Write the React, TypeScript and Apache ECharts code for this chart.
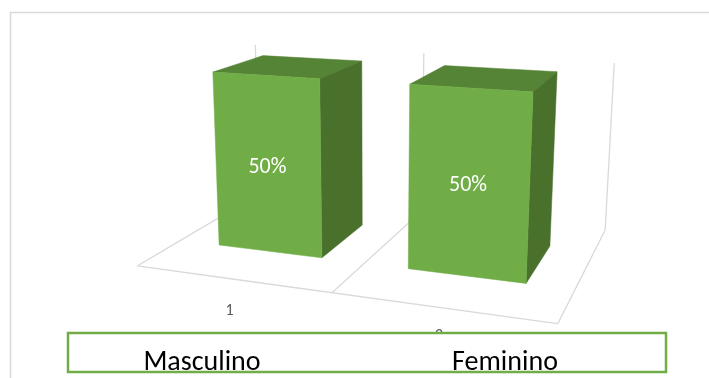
import React, { useEffect, useRef } from 'react';
import * as echarts from 'echarts';

const categories = ['1', '2'];
const values = [0.5, 0.5];
const legendNames = ['Masculino', 'Feminino'];
const VALUE_MAX = 0.5;

// Perspective camera (3x4 projection, last entry 1): world X across categories,
// Y depth (0 front .. 1 back wall), Z as fraction of the value axis.
const CAMERA = [
  171.88426, 182.97974, -15.4495, 137.24669,
  6.56395, -26.75372, -185.8522, 265.95819,
  -0.06886, 0.23488, -0.04132,
];

function proj(X: number, Y: number, Z: number): number[] {
  const P = CAMERA;
  const w = P[8] * X + P[9] * Y + P[10] * Z + 1;
  return [
    (P[0] * X + P[1] * Y + P[2] * Z + P[3]) / w,
    (P[4] * X + P[5] * Y + P[6] * Z + P[7]) / w,
  ];
}

const BAR_RATIO = 0.56;
const DEPTH0 = 0.31;
const DEPTH1 = 0.73;
const FRONT = '#70ad47';
const TOP = '#568436';
const SIDE = '#4a712c';
const GRID_LINE = '#d9d9d9';
const FONT = 'Calibri, Carlito, "Liberation Sans", Arial, sans-serif';

export default function App() {
  const ref = useRef<HTMLDivElement>(null);
  useEffect(() => {
    if (!ref.current) return;
    const chart = echarts.init(ref.current, undefined, { renderer: 'svg' });
    const n = categories.length;

    const frame: any[] = [];
    const line = (a: number[], b: number[]) => {
      const p = proj(a[0], a[1], a[2]);
      const q = proj(b[0], b[1], b[2]);
      frame.push({
        type: 'line', z: 0, silent: true,
        shape: { x1: p[0], y1: p[1], x2: q[0], y2: q[1] },
        style: { stroke: GRID_LINE, lineWidth: 1.3 },
      });
    };
    line([0, 0, 0], [n, 0, 0]);
    for (let k = 0; k <= n; k++) {
      line([k, 0, 0], [k, 1, 0]);
      line([k, 1, 0], [k, 1, 1]);
    }

    const boxX = 68, boxY = 333, boxW = 598, boxH = 39;
    const legendEls = legendNames.map((name, i) => ({
      type: 'text', z: 31,
      x: i === 0 ? 202 : 505, y: 360,
      style: { text: name, font: `28px ${FONT}`, fill: '#000000', align: 'center', verticalAlign: 'middle' },
    }));

    chart.setOption({
      animation: false,
      grid: { left: 0, top: 0, width: 200, height: 100, show: false },
      xAxis: { type: 'category', data: categories, show: false },
      yAxis: { type: 'value', min: 0, max: VALUE_MAX, show: false },
      graphic: [
        {
          type: 'rect', z: 0, silent: true,
          shape: { x: 10.5, y: 12.5, width: 900, height: 600 },
          style: { fill: 'none', stroke: GRID_LINE, lineWidth: 1.5 },
        },
        ...frame,
        {
          type: 'rect', z: 30,
          shape: { x: boxX, y: boxY, width: boxW, height: boxH },
          style: { fill: '#ffffff', stroke: '#70ad47', lineWidth: 2.5 },
        },
        ...legendEls,
      ],
      series: [
        {
          type: 'custom',
          z: 5,
          data: values.map((v, i) => [i, v]),
          renderItem: (params: any, api: any) => {
            const cs = params.coordSys;
            const i = api.value(0);
            const v = api.value(1);
            const top = api.coord([i, v]);
            const base = api.coord([i, 0]);
            const band = api.size([1, 0])[0];
            const unit = cs.width / n;
            const xc = (top[0] - cs.x) / unit;
            const half = (band * BAR_RATIO) / 2 / unit;
            const z = (base[1] - top[1]) / cs.height;
            const x0 = xc - half, x1 = xc + half;
            const y0 = DEPTH0, y1 = DEPTH1;
            const poly = (pts: number[][], fill: string) => ({
              type: 'polygon',
              shape: { points: pts.map((p) => proj(p[0], p[1], p[2])) },
              style: { fill, stroke: fill, lineWidth: 0.5 },
            });
            const fc = proj(xc, y0, z / 2);
            const lab = proj(xc, 0, 0);
            const dy = 31 - ((lab[0] - 231) / 210) * 4.5;
            return {
              type: 'group',
              children: [
                poly([[x0, y0, z], [x1, y0, z], [x1, y1, z], [x0, y1, z]], TOP),
                poly([[x1, y0, 0], [x1, y1, 0], [x1, y1, z], [x1, y0, z]], SIDE),
                poly([[x0, y0, 0], [x1, y0, 0], [x1, y0, z], [x0, y0, z]], FRONT),
                {
                  type: 'text', x: fc[0], y: fc[1],
                  style: { text: `${Math.round(v * 100)}%`, font: `22px ${FONT}`, fill: '#ffffff', align: 'center', verticalAlign: 'middle' },
                },
                {
                  type: 'text', x: lab[0] - 1.5, y: lab[1] + dy,
                  style: { text: categories[i], font: `16px ${FONT}`, fill: '#595959', align: 'center', verticalAlign: 'middle' },
                },
              ],
            };
          },
        },
      ],
    });
    return () => chart.dispose();
  }, []);
  return <div ref={ref} style={{ position: 'fixed', left: 0, top: 0, width: 709, height: 378 }} />;
}
